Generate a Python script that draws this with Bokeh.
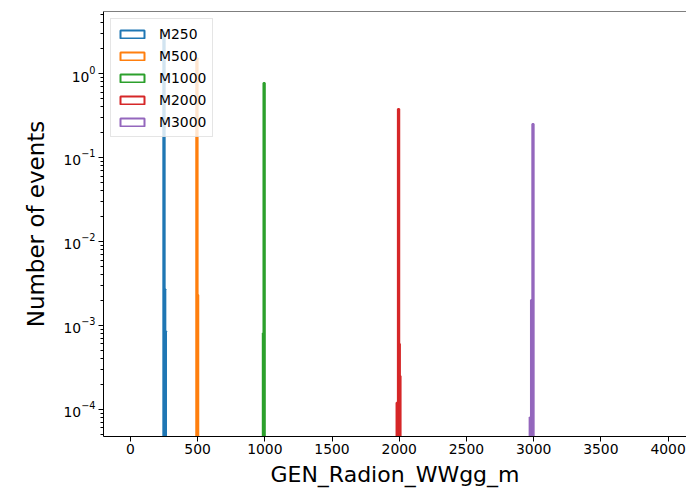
from bokeh.plotting import figure
from bokeh.models import FixedTicker, Span, Range1d, Legend
from bokeh.embed import file_html
from bokeh.resources import INLINE

# ---- data ----
labels = ["M250", "M500", "M1000", "M2000", "M3000"]
colors = ["#1f77b4", "#ff7f0e", "#2ca02c", "#d62728", "#9467bd"]

m250_edges = [245, 255, 260, 265]
m250_counts = [3.1, 2.7e-3, 8.5e-4]

m500_edges = [490, 500, 505]
m500_counts = [1.52, 2.3e-3]

m1000_edges = [985, 990, 1000]
m1000_counts = [8.0e-4, 0.77]

m2000_edges = [1980, 1990, 2000, 2005, 2010]
m2000_counts = [1.2e-4, 0.377, 6.0e-4, 2.5e-4]

m3000_edges = [2970, 2980, 2990, 3000]
m3000_counts = [8.0e-5, 2.0e-3, 0.25]

x_ticks = [0, 500, 1000, 1500, 2000, 2500, 3000, 3500, 4000]
y_ticks = [1e-4, 1e-3, 1e-2, 1e-1, 1e0]

hists = [
    (m250_edges, m250_counts),
    (m500_edges, m500_counts),
    (m1000_edges, m1000_counts),
    (m2000_edges, m2000_counts),
    (m3000_edges, m3000_counts),
]

X_START, X_END = -200, 4137
Y_START, Y_END = 4.745e-5, 5.48
FLOOR = 1e-7

FONT = "DejaVu Sans"

p = figure(width=686, height=489, y_axis_type="log",
           x_range=Range1d(X_START, X_END), y_range=Range1d(Y_START, Y_END),
           output_backend="svg", toolbar_location=None,
           min_border_left=103, min_border_right=0, min_border_top=11,
           min_border_bottom=51)

p.background_fill_color = "white"
p.border_fill_color = "white"
p.outline_line_color = None
p.xgrid.visible = False
p.ygrid.visible = False

items = []
for (edges, counts), lab, col in zip(hists, labels, colors):
    r = p.quad(left=edges[:-1], right=edges[1:], top=counts,
               bottom=[FLOOR] * len(counts),
               fill_alpha=0, line_color=col, line_width=2)
    items.append((lab, [r]))

# top spine
p.add_layout(Span(location=Y_END, dimension="width", line_color="black", line_width=1))

legend = Legend(items=items, location="top_left")
legend.margin = 7
legend.padding = 6
legend.spacing = 5
legend.glyph_width = 30
legend.glyph_height = 10
legend.label_height = 17
legend.label_standoff = 12
legend.label_text_font = FONT
legend.label_text_font_size = "13.9px"
legend.label_text_color = "black"
legend.background_fill_alpha = 0.8
legend.border_line_color = "#cccccc"
legend.border_line_width = 1
p.add_layout(legend, "center")

xa = p.xaxis[0]
xa.ticker = FixedTicker(ticks=x_ticks)
xa.axis_label = "GEN_Radion_WWgg_m"
ya = p.yaxis[0]
minors = [m * d for d in [1e-5, 1e-4, 1e-3, 1e-2, 1e-1, 1e0] for m in range(2, 10)]
ya.ticker = FixedTicker(ticks=y_ticks, minor_ticks=minors)
ya.axis_label = "Number of events"

for ax in (xa, ya):
    ax.axis_line_color = "black"
    ax.major_tick_line_color = "black"
    ax.minor_tick_line_color = "black"
    ax.major_tick_in = 0
    ax.major_tick_out = 5
    ax.minor_tick_in = 0
    ax.minor_tick_out = 3
    ax.major_label_text_font = FONT
    ax.major_label_text_font_size = "13.9px"
    ax.major_label_text_color = "black"
    ax.axis_label_text_font = FONT
    ax.axis_label_text_font_style = "normal"
    ax.axis_label_text_color = "black"
    ax.major_label_standoff = 3

xa.axis_label_text_font_size = "22px"
xa.major_label_standoff = 2
xa.axis_label_standoff = 5
ya.axis_label_text_font_size = "23px"
ya.axis_label_standoff = 11

open("out.html", "w").write(file_html(p, INLINE))
